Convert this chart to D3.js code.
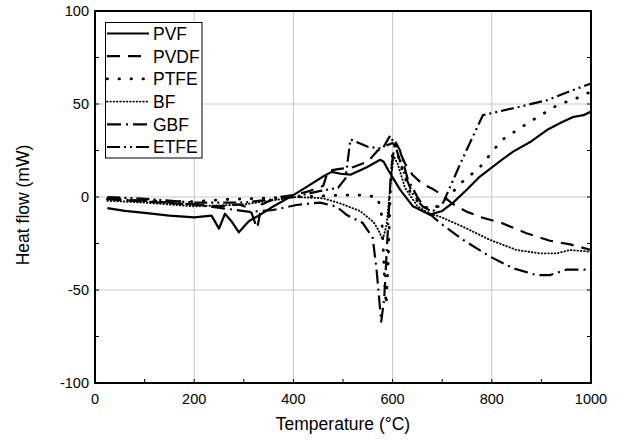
<!DOCTYPE html>
<html>
<head>
<meta charset="utf-8">
<script src="https://cdn.jsdelivr.net/npm/d3@7"></script>
<style>
  body { margin: 0; background: #fff; }
  svg { display: block; font-family: Arial, "Liberation Sans", sans-serif; }
  .grid line { stroke: #c8c8c8; stroke-width: 1; }
  .tick-label { font-size: 14.5px; fill: #000; }
  .title { font-size: 17.5px; fill: #000; }
  .legend text { font-size: 17.5px; fill: #000; }
</style>
</head>
<body>
<svg id="chart" width="621" height="440"></svg>
<script>
// temperature (°C) / heat flow (mW) pairs
const pvf = [[25,-6],[60,-7.5],[100,-8.5],[150,-10],[200,-11],[235,-10],[250,-17],[262,-9],[275,-13],[290,-19],[310,-13],[330,-10],[360,-5],[400,1],[430,6],[460,11],[477,13.5],[495,12.5],[515,12],[548,16],[575,20],[582,19],[591,14.5],[615,4],[641,-5],[675,-9.5],[700,-7.5],[722,-3],[750,4],[776,11],[820,20],[843,24.4],[880,30],[911,36],[940,40],[964,43],[985,44],[1000,46]];
const pvdf = [[25,-1],[100,-2.5],[200,-4],[250,-5],[290,-4],[312,-6],[327,-17],[336,-4],[370,0],[400,1],[430,3],[460,6],[470,14],[490,15],[520,16],[550,19],[570,25],[590,28],[600,29],[610,27],[625,18],[640,12],[660,7],[680,4.5],[700,1],[720,-3.5],[750,-8],[780,-11],[820,-14],[870,-19.5],[917,-23.5],[958,-25.5],[1000,-28.5]];
const ptfe = [[25,-1],[100,-2],[200,-2.5],[250,-1.5],[300,-1],[350,-0.5],[400,0],[450,0.5],[500,1],[540,1],[570,0],[578,-10],[584,-45],[587,-58],[591,-35],[595,0],[600,25],[605,28],[615,18],[635,3],[655,-4],[680,-7],[706,-1.6],[740,8],[776,16],[820,30.6],[877,40.5],[933,49.5],[970,53],[1000,56.6]];
const bf = [[25,-2],[100,-3],[200,-5],[300,-4],[406,0],[460,-0.7],[494,-3.4],[534,-7.5],[561,-13.3],[572,-18],[580,-23],[588,-15],[595,5],[602,22],[610,18],[625,5],[650,-5],[675,-9],[696,-10.6],[742,-16],[796,-23],[850,-28.5],[897,-30.3],[931,-30.3],[958,-28.5],[1000,-29.4]];
const gbf = [[25,-1],[100,-2],[200,-4],[312,-8],[359,-7],[406,-4.3],[454,-3],[487,-5.2],[508,-9.7],[540,-14],[560,-22],[568,-40],[577,-67],[583,-55],[590,-20],[597,15],[605,30],[615,25],[630,10],[650,0],[670,-8],[696,-14],[742,-23],[796,-32],[843,-38.3],[890,-42],[917,-42],[951,-39],[1000,-39]];
const etfe = [[25,0],[100,-1],[200,-3],[300,-3],[400,0],[450,3],[490,5],[505,10],[515,31],[550,27],[580,26],[595,33],[605,28],[620,15],[640,2],[660,-5],[680,-8],[702,-3],[740,20],[782,44],[843,47.7],[911,52],[964,57.5],[1000,61]];

const seriesNames = ["PVF", "PVDF", "PTFE", "BF", "GBF", "ETFE"];
const seriesData = [pvf, pvdf, ptfe, bf, gbf, etfe];
const dashes = [null, "13,8", "0.5,11.5", "0.5,2.8", "14,5,2,5", "13,4,2,4,2,4"];
const widths = [2.2, 2.2, 2.8, 1.9, 2.2, 2.2];

const xTicks = [0, 200, 400, 600, 800, 1000];
const yTicks = [-100, -50, 0, 50, 100];

const svg = d3.select("#chart");
const x = d3.scaleLinear().domain([0, 1000]).range([95, 591]);
const y = d3.scaleLinear().domain([-100, 100]).range([383, 11]);

// grid
const grid = svg.append("g").attr("class", "grid");
grid.selectAll(".gx").data(xTicks.slice(1, -1)).enter().append("line")
    .attr("x1", d => x(d)).attr("x2", d => x(d)).attr("y1", y(100)).attr("y2", y(-100));
grid.selectAll(".gy").data(yTicks.slice(1, -1)).enter().append("line")
    .attr("x1", x(0)).attr("x2", x(1000)).attr("y1", d => y(d)).attr("y2", d => y(d));

// inward ticks on the left, right and bottom
const minorX = d3.range(0, 1001, 100);
const minorY = d3.range(-100, 101, 25);
const tk = svg.append("g").attr("stroke", "#000").attr("stroke-width", 1);
minorX.forEach(v => {
    tk.append("line").attr("x1", x(v)).attr("x2", x(v)).attr("y1", y(-100)).attr("y2", y(-100) - 4);
});
minorY.forEach(v => {
    tk.append("line").attr("x1", x(0)).attr("x2", x(0) + 4).attr("y1", y(v)).attr("y2", y(v));
    tk.append("line").attr("x1", x(1000)).attr("x2", x(1000) - 4).attr("y1", y(v)).attr("y2", y(v));
});

// lines
const round = i => (i === 2 || i === 3 ? "round" : "butt");
const line = d3.line().x(d => x(d[0])).y(d => y(d[1]));
const plot = svg.append("g");
seriesData.forEach((data, i) => {
    plot.append("path")
        .datum(data)
        .attr("d", line)
        .attr("fill", "none")
        .attr("stroke", "#000")
        .attr("stroke-width", widths[i])
        .attr("stroke-linejoin", "round")
        .attr("stroke-linecap", round(i))
        .attr("stroke-dasharray", dashes[i]);
});

// frame
svg.append("rect")
    .attr("x", x(0)).attr("y", y(100))
    .attr("width", x(1000) - x(0)).attr("height", y(-100) - y(100))
    .attr("fill", "none").attr("stroke", "#000").attr("stroke-width", 2);

// tick labels
svg.append("g").selectAll("text").data(xTicks).enter().append("text")
    .attr("class", "tick-label")
    .attr("x", d => x(d)).attr("y", 404)
    .attr("text-anchor", "middle")
    .text(d => d);
svg.append("g").selectAll("text").data(yTicks).enter().append("text")
    .attr("class", "tick-label")
    .attr("x", 89).attr("y", d => y(d) + 5)
    .attr("text-anchor", "end")
    .text(d => d);

// axis titles
svg.append("text").attr("class", "title")
    .attr("x", 343).attr("y", 430).attr("text-anchor", "middle")
    .text("Temperature (°C)");
svg.append("text").attr("class", "title")
    .attr("transform", "translate(29,205) rotate(-90)")
    .attr("text-anchor", "middle")
    .text("Heat flow (mW)");

// legend
const lg = svg.append("g").attr("class", "legend");
lg.append("rect")
    .attr("x", 105.5).attr("y", 22.5).attr("width", 96.5).attr("height", 135.5)
    .attr("fill", "#fff").attr("stroke", "#000").attr("stroke-width", 1);
seriesNames.forEach((name, i) => {
    const cy = 33.5 + i * 22.7;
    lg.append("line")
        .attr("x1", 107).attr("x2", 149).attr("y1", cy).attr("y2", cy)
        .attr("stroke", "#000").attr("stroke-width", widths[i])
        .attr("stroke-linecap", round(i))
        .attr("stroke-dasharray", dashes[i]);
    lg.append("text").attr("x", 153).attr("y", cy + 6.3).text(name);
});
</script>
</body>
</html>
